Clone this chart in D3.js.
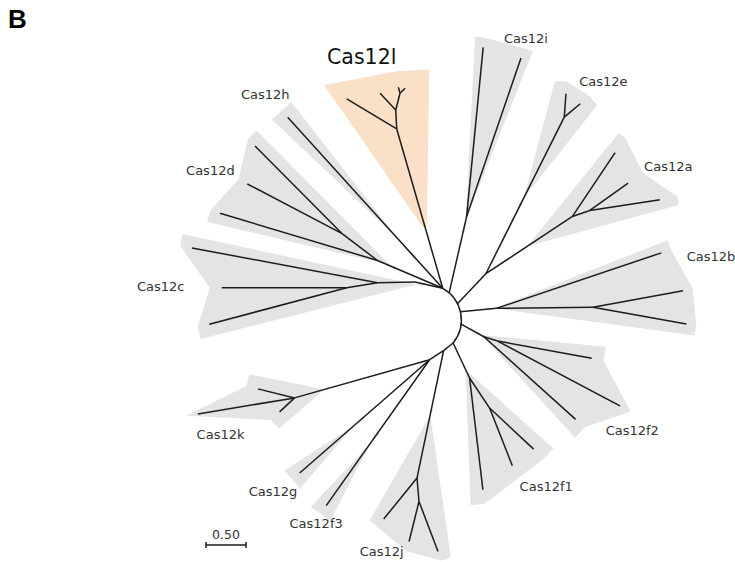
<!DOCTYPE html>
<html>
<head>
<meta charset="utf-8">
<script src="https://cdn.jsdelivr.net/npm/d3@7"></script>
<style>
  html, body { margin: 0; padding: 0; background: #fff; }
  svg { display: block; }
</style>
</head>
<body>
<script>
// ---- Tree data -------------------------------------------------------------
// Branch lengths are in substitutions per site; directions in degrees
// (screen convention, 0 = east, positive = clockwise).

// Radius of the central arc that joins the basal lineages
const rootRadius = 0.454;
// Internal nodes that sit on the central arc, and where they sit on it
const spineNodes  = ["S1", "S2", "S3", "S4", "S5", "S6"];
const spineAngles = [-60.8, -48.3, -26.6, -13.1, 6.4, 39.3];

// [node, parent, branch length, direction]
const branches = [
  ["c0", "S1", 0.355, -167.2],
  ["c1", "c0", 0.469, 178.9],
  ["c_a", "c1", 2.359, -169.4],
  ["c2", "c1", 0.390, 170.8],
  ["c_b", "c2", 1.5625, 180],
  ["c_c", "c2", 1.777, 165.1],
  ["d0", "S1", 0.886, -156.9],
  ["d_a", "d0", 2.055, -163.3],
  ["d1", "d0", 0.562, -142.8],
  ["d_b", "d1", 1.331, -152.4],
  ["d_c", "d1", 1.538, -134.8],
  ["h", "S1", 2.885, -132.2],
  ["L1", "S1", 2.073, -106.1],
  ["l_a", "L1", 0.729, -149.0],
  ["L2", "L1", 0.238, -93.0],
  ["l_b", "L2", 0.286, -133.2],
  ["L3", "L2", 0.216, -75.6],
  ["l_c", "L3", 0.078, -105.8],
  ["l_d", "L3", 0.088, -45.0],
  ["I0", "S2", 0.975, -77.1],
  ["i_a", "I0", 2.128, -84.4],
  ["i_b", "I0", 2.100, -71.1],
  ["E0", "S3", 0.516, -46.6],
  ["E1", "E0", 2.189, -63.4],
  ["e_a", "E1", 0.293, -85.8],
  ["e_b", "E1", 0.261, -40.0],
  ["A0", "E0", 1.298, -33.5],
  ["a_a", "A0", 0.959, -56.2],
  ["A1", "A0", 0.230, -19.0],
  ["a_b", "A1", 0.588, -35.5],
  ["a_c", "A1", 0.885, -8.7],
  ["B0", "S4", 0.452, -5.4],
  ["b_a", "B0", 2.176, -18.6],
  ["B1", "B0", 1.208, -0.6],
  ["b_b", "B1", 1.144, -10.5],
  ["b_c", "B1", 1.186, 10.1],
  ["F0", "S5", 0.326, 29.1],
  ["F1", "F0", 0.180, 17.4],
  ["f2_a", "F1", 1.195, 10.4],
  ["f2_b", "F1", 1.730, 27.9],
  ["f2_c", "F0", 1.543, 42.0],
  ["G0", "S6", 0.484, 64.8],
  ["f1_a", "G0", 1.406, 83.2],
  ["G1", "G0", 0.451, 56.3],
  ["f1_b", "G1", 0.752, 43.0],
  ["f1_c", "G1", 0.775, 68.5],
  ["N7", "S6", 0.153, 141.0],
  ["J0", "N7", 1.626, 101.8],
  ["j_a", "J0", 0.660, 129.1],
  ["J1", "J0", 0.294, 85.1],
  ["j_b", "J1", 0.515, 104.0],
  ["j_c", "J1", 0.669, 69.2],
  ["N8", "N7", 0.208, 147.3],
  ["K1", "N8", 1.754, 164.2],
  ["k_a", "K1", 0.256, 137.0],
  ["k_b", "K1", 0.472, -166.2],
  ["k_c", "K1", 1.225, 170.6],
  ["g", "N8", 2.155, 138.9],
  ["f3", "N8", 2.236, 125.3]
];

// Subfamilies and the node each one is rooted at
const cladeNames = ["Cas12l", "Cas12h", "Cas12d", "Cas12c", "Cas12i", "Cas12e", "Cas12a",
                    "Cas12b", "Cas12f2", "Cas12f1", "Cas12j", "Cas12f3", "Cas12g", "Cas12k"];
const cladeRoots = ["L1", "h", "d0", "c0", "I0", "E1", "A0", "B0", "F0", "G0", "J0", "f3", "g", "K1"];
const highlighted = "Cas12l";

// Scale bar
const scaleBarValue = 0.50;
const scaleBarLabel = "0.50";
const panelLetter = "B";

// ---- Layout / style --------------------------------------------------------
const W = 735, H = 562;
const origin = [425, 320];              // centre of the central arc
const unit = d3.scaleLinear().domain([0, 1]).range([0, 80]);   // px per substitution/site

// shading: how far back down the stem it starts, tip padding, side padding,
// optional fixed outward axis (deg) for the whole clade
const shadeStyle = {
  "Cas12l":  {back: 102, pad: 16, sideFirst: 21, sideLast: 26, axis: -96, hull: true},
  "Cas12h":  {back: 190, pad: 9,  side: 13},
  "Cas12d":  {back: 20,  pad: 10, side: 12},
  "Cas12c":  {back: 10,  pad: 12, side: 12},
  "Cas12i":  {back: 16,  pad: 10, side: 9},
  "Cas12e":  {back: 100, pad: 12, side: 12},
  "Cas12a":  {back: 60,  pad: 18, side: 8},
  "Cas12b":  {back: 10,  pad: 10, side: 10},
  "Cas12f2": {back: 8,   pad: 12, side: 14},
  "Cas12f1": {back: 14,  pad: 14, side: 14},
  "Cas12j":  {back: 70,  pad: 10, side: 10},
  "Cas12f3": {back: 90,  pad: 10, side: 12},
  "Cas12g":  {back: 85,  pad: 10, side: 12},
  "Cas12k":  {back: 35,  pad: 12, side: 12}
};
// label placement: anchor leaf and offset (text start, baseline)
const labelPlace = {
  "Cas12l":  ["l_a", -19.7, -35],
  "Cas12h":  ["h", -46.7, -18.3],
  "Cas12d":  ["d_b", -61.3, -8.5],
  "Cas12c":  ["c_b", -84.7, 2.8],
  "Cas12i":  ["i_a", 20.7, -4.8],
  "Cas12e":  ["e_b", -1, -17.8],
  "Cas12a":  ["a_c", -15.7, -28.8],
  "Cas12b":  ["b_a", 25.3, 7.8],
  "Cas12f2": ["f2_b", -14.3, 28.8],
  "Cas12f1": ["f1_b", -14, 42.2],
  "Cas12j":  ["j_a", -24, 37.2],
  "Cas12f3": ["f3", -36.7, 22.5],
  "Cas12g":  ["g", -51, 23.2],
  "Cas12k":  ["k_c", -1.3, 25.2]
};

const GREY = "#e4e4e4", PEACH = "#f9e0c7", INK = "#1c1c1c", TEXT = "#333";
const FONT = "'DejaVu Sans', Verdana, sans-serif";

// ---- Build geometry ---------------------------------------------------------
const rad = d => d * Math.PI / 180;
const R = unit(rootRadius);
const pos = new Map(), dirOf = new Map(), kids = new Map();
spineNodes.forEach((id, i) => {
  const a = rad(spineAngles[i]);
  pos.set(id, [R * Math.cos(a), R * Math.sin(a)]);
});
branches.forEach(([id, p, len, deg]) => {
  const a = rad(deg), [px, py] = pos.get(p);
  pos.set(id, [px + unit(len) * Math.cos(a), py + unit(len) * Math.sin(a)]);
  dirOf.set(id, a);
  if (!kids.has(p)) kids.set(p, []);
  kids.get(p).push(id);
});
const leavesOf = id => kids.has(id) ? kids.get(id).flatMap(leavesOf) : [id];

function shadePolygon(root, st) {
  const stem = dirOf.get(root);
  const [rx, ry] = pos.get(root);
  const apex = [rx - st.back * Math.cos(stem), ry - st.back * Math.sin(stem)];
  const rel = p => {
    let t = Math.atan2(p[1] - apex[1], p[0] - apex[0]) - stem;
    while (t > Math.PI) t -= 2 * Math.PI;
    while (t < -Math.PI) t += 2 * Math.PI;
    return t;
  };
  const tips = leavesOf(root).map(id => {
    const a = st.axis !== undefined ? rad(st.axis) : dirOf.get(id);
    const [x, y] = pos.get(id);
    return {a, p: [x + st.pad * Math.cos(a), y + st.pad * Math.sin(a)]};
  });
  tips.sort((u, v) => rel(u.p) - rel(v.p));
  const off = (t, s, w) => [t.p[0] + s * w * Math.cos(t.a - Math.PI / 2),
                            t.p[1] + s * w * Math.sin(t.a - Math.PI / 2)];
  const wF = st.sideFirst ?? st.side, wL = st.sideLast ?? st.side;
  const first = tips[0], last = tips[tips.length - 1];
  const f1 = off(first, 1, wF), f2 = off(first, -1, wF);
  const l1 = off(last, 1, wL), l2 = off(last, -1, wL);
  const fc = rel(f1) < rel(f2) ? f1 : f2;
  const lc = rel(l1) > rel(l2) ? l1 : l2;
  const ax = 2 * Math.cos(stem + Math.PI / 2), ay = 2 * Math.sin(stem + Math.PI / 2);
  const pts = [[apex[0] + ax, apex[1] + ay], fc, ...tips.map(t => t.p), lc, [apex[0] - ax, apex[1] - ay]];
  return st.hull ? d3.polygonHull(pts) : pts;
}

// ---- Draw -------------------------------------------------------------------
const svg = d3.select("body").append("svg").attr("width", W).attr("height", H);
const g = svg.append("g").attr("transform", `translate(${origin[0]},${origin[1]})`);

// clade shading
g.append("g").selectAll("path")
  .data(cladeNames)
  .join("path")
  .attr("d", (name, i) => {
    const pts = shadePolygon(cladeRoots[i], shadeStyle[name]);
    return "M" + pts.map(p => p.join(",")).join("L") + "Z";
  })
  .attr("fill", name => name === highlighted ? PEACH : GREY)
  .attr("stroke", "none");

// central arc
const arcPath = d3.path();
const a0 = rad(spineAngles[0]), a1 = rad(spineAngles[spineAngles.length - 1]);
arcPath.moveTo(R * Math.cos(a0), R * Math.sin(a0));
arcPath.arc(0, 0, R, a0, a1, false);
g.append("path").attr("d", arcPath.toString())
  .attr("fill", "none").attr("stroke", INK).attr("stroke-width", 1.5);

// branches
g.append("g").selectAll("line")
  .data(branches)
  .join("line")
  .attr("x1", d => pos.get(d[1])[0]).attr("y1", d => pos.get(d[1])[1])
  .attr("x2", d => pos.get(d[0])[0]).attr("y2", d => pos.get(d[0])[1])
  .attr("stroke", INK).attr("stroke-width", 1.5).attr("stroke-linecap", "butt");

// clade labels
g.append("g").selectAll("text")
  .data(cladeNames)
  .join("text")
  .attr("x", name => pos.get(labelPlace[name][0])[0] + labelPlace[name][1])
  .attr("y", name => pos.get(labelPlace[name][0])[1] + labelPlace[name][2])
  .attr("font-family", FONT)
  .attr("font-size", name => name === highlighted ? 20.5 : 13)
  .attr("fill", name => name === highlighted ? "#111" : TEXT)
  .text(name => name);

// scale bar
const sb = svg.append("g").attr("transform", "translate(206,545)");
const sbLen = unit(scaleBarValue);
sb.append("line").attr("x1", 0).attr("x2", sbLen).attr("y1", 0).attr("y2", 0)
  .attr("stroke", INK).attr("stroke-width", 1.5);
[0, sbLen].forEach(x => sb.append("line").attr("x1", x).attr("x2", x).attr("y1", -3).attr("y2", 3)
  .attr("stroke", INK).attr("stroke-width", 1.5));
sb.append("text").attr("x", sbLen / 2).attr("y", -6).attr("text-anchor", "middle")
  .attr("font-family", FONT).attr("font-size", 12.5).attr("fill", TEXT).text(scaleBarLabel);

// panel letter
svg.append("text").attr("x", 8).attr("y", 28)
  .attr("font-family", "'Liberation Sans', Arial, sans-serif").attr("font-weight", "bold")
  .attr("font-size", 26).attr("fill", "#000").text(panelLetter);
</script>
</body>
</html>
